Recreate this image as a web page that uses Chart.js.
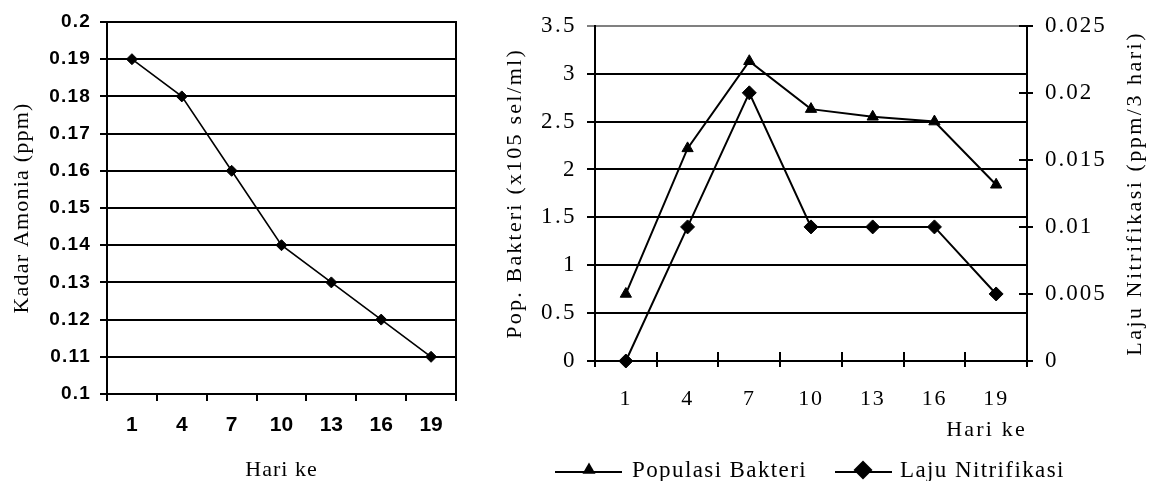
<!DOCTYPE html>
<html>
<head>
<meta charset="utf-8">
<script src="https://cdn.jsdelivr.net/npm/chart.js@4.4.1/dist/chart.umd.min.js"></script>
<style>
  html, body { margin: 0; padding: 0; background: #fff; width: 1152px; height: 481px; overflow: hidden; }
  #c1 { position: absolute; left: 0; top: 0; }
  #c2 { position: absolute; left: 480px; top: 0; }
</style>
</head>
<body>
<canvas id="c1" width="470" height="481"></canvas>
<canvas id="c2" width="672" height="481"></canvas>
<script>
// ---- data ----
const days = ['1', '4', '7', '10', '13', '16', '19'];
const kadarAmonia = [0.19, 0.18, 0.16, 0.14, 0.13, 0.12, 0.11];
const populasiBakteri = [0.70, 2.22, 3.13, 2.63, 2.55, 2.50, 1.84];
const lajuNitrifikasi = [0, 0.01, 0.02, 0.01, 0.01, 0.01, 0.005];
const seriesNames = ['Populasi Bakteri', 'Laju Nitrifikasi'];
const titles = {
  leftY: 'Kadar Amonia (ppm)',
  leftX: 'Hari ke',
  rightY1: 'Pop. Bakteri (x105 sel/ml)',
  rightY2: 'Laju Nitrifikasi (ppm/3 hari)',
  rightX: 'Hari ke'
};

const SERIF = "'Liberation Serif', 'Times New Roman', serif";
const SANS = "'Liberation Sans', Arial, sans-serif";
const fmt = v => String(Number(v.toFixed(4)));

// per-scale letter spacing for labels and titles
function spacingPlugin(map) {
  return {
    id: 'spacing',
    beforeDraw(chart) {
      chart.ctx.letterSpacing = '0px';
      Object.keys(map).forEach(id => {
        const s = chart.scales[id];
        if (!s || s._spWrapped) return;
        s._spWrapped = true;
        const dl = s.drawLabels, dt = s.drawTitle;
        s.drawLabels = function (a) { const c = this.ctx; const o = c.letterSpacing; c.letterSpacing = (map[id].labels || 0) + 'px'; dl.call(this, a); c.letterSpacing = o; };
        s.drawTitle = function (a) { const c = this.ctx; const o = c.letterSpacing; c.letterSpacing = (map[id].title || 0) + 'px'; dt.call(this, a); c.letterSpacing = o; };
      });
    }
  };
}

// ---- left chart ----
new Chart(document.getElementById('c1'), {
  type: 'line',
  data: {
    labels: days,
    datasets: [{
      data: kadarAmonia,
      borderColor: '#000',
      backgroundColor: '#000',
      borderWidth: 1.6,
      pointStyle: 'rectRot',
      pointRadius: 5.5,
      pointBorderWidth: 1,
      tension: 0,
      clip: false
    }]
  },
  options: {
    responsive: false,
    animation: false,
    devicePixelRatio: 1,
    layout: { padding: { top: 22, right: 0, bottom: 0, left: 0 } },
    plugins: { legend: { display: false }, tooltip: { enabled: false } },
    scales: {
      x: {
        type: 'category',
        offset: true,
        grid: { display: true, drawOnChartArea: false, offset: true, tickLength: 7, color: '#000', lineWidth: 2 },
        border: { display: true, color: '#000', width: 2 },
        ticks: { color: '#000', font: { family: SANS, size: 21, weight: 'bold' }, padding: 12, maxRotation: 0 },
        title: { display: true, text: titles.leftX, color: '#000', font: { family: SERIF, size: 22, lineHeight: 1 }, padding: 0 },
        afterFit: s => { s.height = 87; }
      },
      y: {
        min: 0.1, max: 0.2,
        grid: { color: '#000', lineWidth: 2, tickLength: 7 },
        border: { display: true, color: '#000', width: 2 },
        ticks: { stepSize: 0.01, color: '#000', font: { family: SANS, size: 19, weight: 'bold' }, padding: 9, callback: v => fmt(v) },
        title: { display: true, text: titles.leftY, color: '#000', font: { family: SERIF, size: 22, lineHeight: 1.2 }, padding: { top: 9, bottom: 0 } },
        afterFit: s => { s.width = 107; }
      },
      yR: {
        position: 'right',
        min: 0.1, max: 0.2,
        grid: { drawOnChartArea: false, drawTicks: false },
        border: { display: true, color: '#000', width: 2 },
        ticks: { display: false },
        afterFit: s => { s.width = 14; }
      }
    }
  },
  plugins: [spacingPlugin({ x: { labels: 0, title: 1 }, y: { labels: 1.2, title: 1.2 } })]
});

// ---- right chart ----
function drawMarker(ctx, style, x, y, r) {
  ctx.beginPath();
  if (style === 'triangle') {
    for (let i = 0; i < 3; i++) {
      const a = i * 2 * Math.PI / 3;
      const px = x + Math.sin(a) * r, py = y - Math.cos(a) * r;
      if (i === 0) ctx.moveTo(px, py); else ctx.lineTo(px, py);
    }
  } else {
    ctx.moveTo(x - r, y); ctx.lineTo(x, y - r); ctx.lineTo(x + r, y); ctx.lineTo(x, y + r);
  }
  ctx.closePath();
  ctx.fill();
}

const rightExtras = {
  id: 'rightExtras',
  afterDraw(chart) {
    const ctx = chart.ctx;
    const area = chart.chartArea;
    const xs = chart.scales.x, y1 = chart.scales.y1;

    // inner halves of the crossing tick marks
    ctx.save();
    ctx.strokeStyle = '#000';
    ctx.lineWidth = 2;
    ctx.beginPath();
    const n = xs.ticks.length;
    for (let i = 0; i <= n; i++) {
      const px = Math.round(xs.left + i * (xs.width / n));
      ctx.moveTo(px, area.bottom); ctx.lineTo(px, area.bottom - 9);
    }
    y1.ticks.forEach((t, i) => {
      const py = Math.round(y1.getPixelForTick(i));
      ctx.moveTo(area.right, py); ctx.lineTo(area.right - 8, py);
    });
    ctx.stroke();
    ctx.restore();

    // right axis title, reading bottom-to-top
    ctx.save();
    ctx.fillStyle = '#000';
    ctx.font = '22px ' + SERIF;
    ctx.letterSpacing = '2.5px';
    ctx.textAlign = 'center';
    ctx.textBaseline = 'middle';
    ctx.translate(655, (area.top + area.bottom) / 2);
    ctx.rotate(-Math.PI / 2);
    ctx.fillText(titles.rightY2, 0, 0);
    ctx.restore();

    // legend
    ctx.save();
    ctx.fillStyle = '#000';
    ctx.strokeStyle = '#000';
    ctx.lineWidth = 2;
    ctx.font = '23px ' + SERIF;
    ctx.letterSpacing = '1.4px';
    ctx.textAlign = 'left';
    ctx.textBaseline = 'alphabetic';
    const items = [
      { x0: 75, x1: 142, mx: 109, style: 'triangle', r: 7.5, tx: 152, text: seriesNames[0] },
      { x0: 355, x1: 412, mx: 383, style: 'rectRot', r: 9.5, tx: 420, text: seriesNames[1] }
    ];
    items.forEach(it => {
      ctx.beginPath();
      ctx.moveTo(it.x0, 472); ctx.lineTo(it.x1, 472);
      ctx.stroke();
      drawMarker(ctx, it.style, it.mx, 470, it.r);
      ctx.fillText(it.text, it.tx, 477);
    });
    ctx.restore();
  }
};

new Chart(document.getElementById('c2'), {
  type: 'line',
  data: {
    labels: days,
    datasets: [{
      label: seriesNames[0],
      data: populasiBakteri,
      yAxisID: 'y',
      borderColor: '#000',
      backgroundColor: '#000',
      borderWidth: 2,
      pointStyle: 'triangle',
      pointRadius: 6.5,
      pointBorderWidth: 1,
      tension: 0,
      clip: false
    }, {
      label: seriesNames[1],
      data: lajuNitrifikasi,
      yAxisID: 'y1',
      borderColor: '#000',
      backgroundColor: '#000',
      borderWidth: 2,
      pointStyle: 'rectRot',
      pointRadius: 7,
      pointBorderWidth: 1,
      tension: 0,
      clip: false
    }]
  },
  options: {
    responsive: false,
    animation: false,
    devicePixelRatio: 1,
    layout: { padding: { top: 25, right: 0, bottom: 38, left: 0 } },
    plugins: { legend: { display: false }, tooltip: { enabled: false } },
    scales: {
      x: {
        type: 'category',
        offset: true,
        grid: { display: true, drawOnChartArea: false, offset: true, tickLength: 6, color: '#000', lineWidth: 2 },
        border: { display: true, color: '#000', width: 2 },
        ticks: { color: '#000', font: { family: SERIF, size: 22 }, padding: 19, maxRotation: 0 },
        title: { display: true, text: titles.rightX, align: 'end', color: '#000', font: { family: SERIF, size: 22, lineHeight: 1.2 }, padding: 0 },
        afterFit: s => { s.height = 82; }
      },
      y: {
        position: 'left',
        min: 0, max: 3.5,
        grid: { color: c => (c.tick && c.tick.value === 3.5) ? '#808080' : '#000', lineWidth: 2, tickLength: 8 },
        border: { display: true, color: '#000', width: 2 },
        ticks: { stepSize: 0.5, color: '#000', font: { family: SERIF, size: 23 }, padding: 10, callback: v => fmt(v) },
        title: { display: true, text: titles.rightY1, color: '#000', font: { family: SERIF, size: 22, lineHeight: 1.2 }, padding: { top: 22, bottom: 0 } },
        afterFit: s => { s.width = 115; }
      },
      y1: {
        position: 'right',
        min: 0, max: 0.025,
        grid: { drawOnChartArea: false, tickLength: 6, color: '#000', lineWidth: 2 },
        border: { display: true, color: '#000', width: 2 },
        ticks: { stepSize: 0.005, color: '#000', font: { family: SERIF, size: 23 }, padding: 12, callback: v => fmt(v) },
        title: { display: false },
        afterFit: s => { s.width = 125; }
      }
    }
  },
  plugins: [spacingPlugin({ x: { labels: 1.8, title: 2.2 }, y: { labels: 2.4, title: 2.2 }, y1: { labels: 2 } }), rightExtras]
});
</script>
</body>
</html>
